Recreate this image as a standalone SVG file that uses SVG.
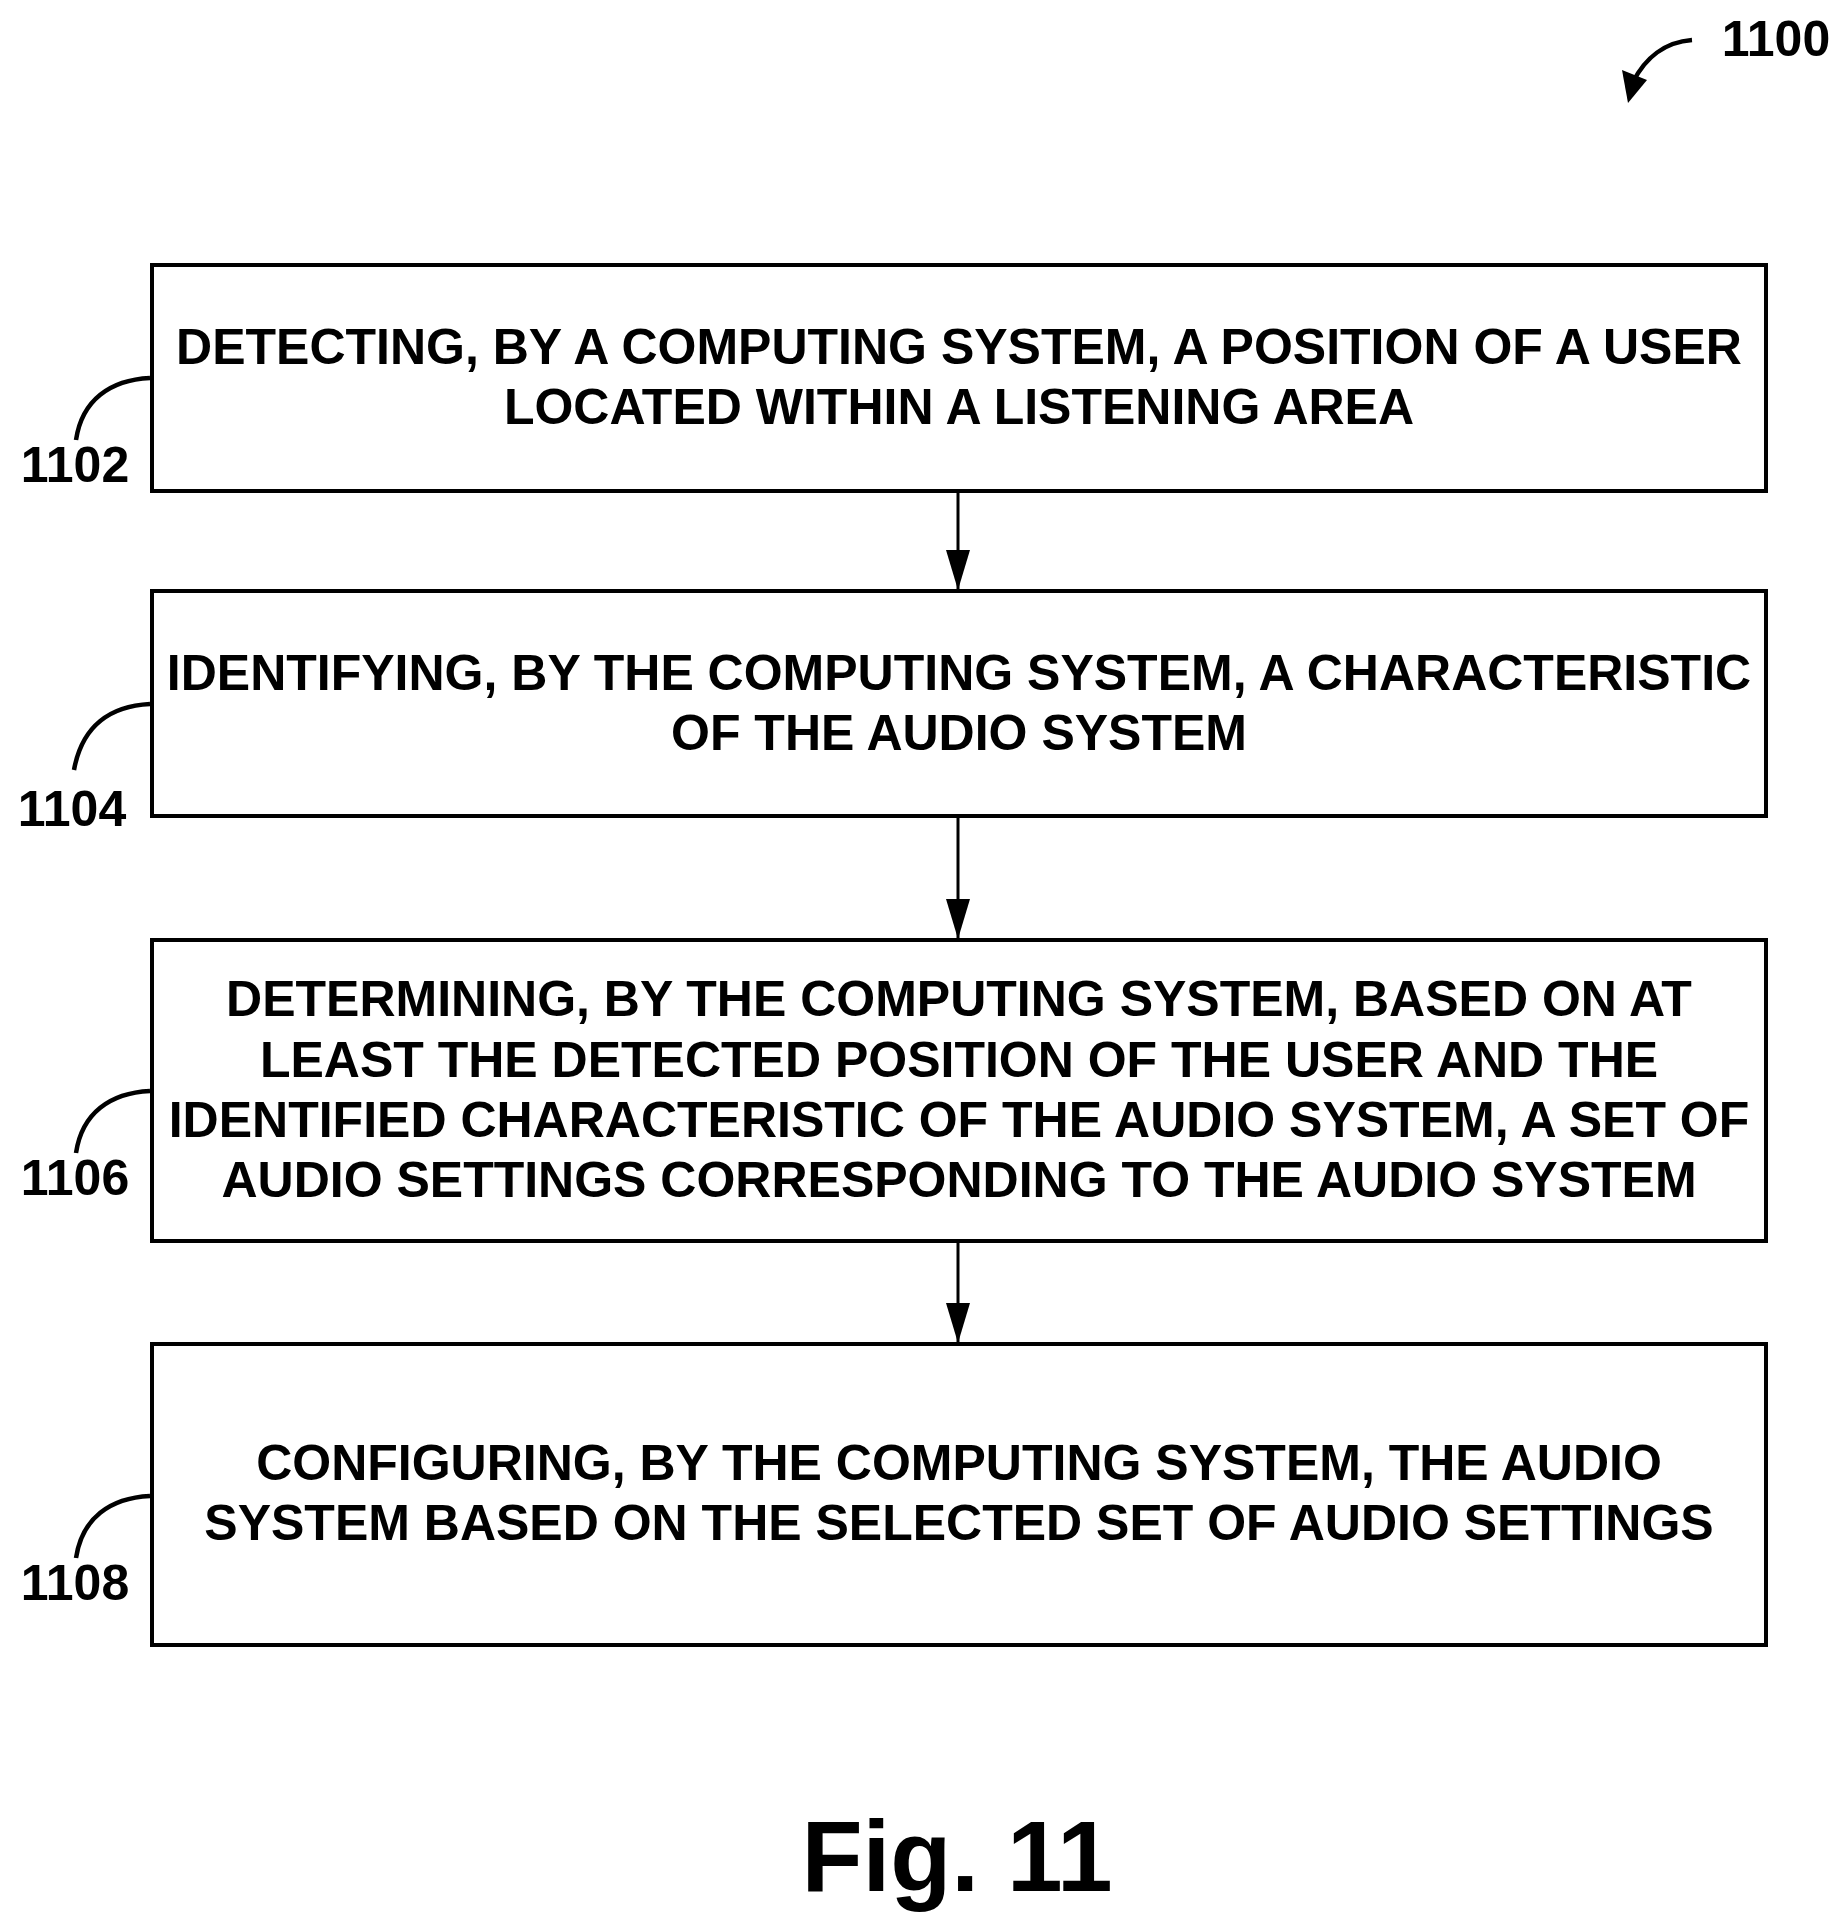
<svg xmlns="http://www.w3.org/2000/svg" width="1848" height="1931" viewBox="0 0 1848 1931">
<defs>
<style>
.box{fill:#fff;stroke:#000;stroke-width:4}
.t{font-family:"Liberation Sans",Arial,sans-serif;font-weight:bold;font-size:50px;text-anchor:middle;fill:#000}
.lbl{font-family:"Liberation Sans",Arial,sans-serif;font-weight:bold;font-size:50px;text-anchor:middle;fill:#000}
.lead{fill:none;stroke:#000;stroke-width:4.5}
.conn{stroke:#000;stroke-width:3;fill:none}
</style>
<marker id="ah2" viewBox="0 0 40 24" refX="40" refY="12" markerWidth="40" markerHeight="24" orient="auto" markerUnits="userSpaceOnUse"><path d="M0,0 L40,12 L0,24 Z"/></marker>
</defs>
<g id="ref1100">
<text class="lbl" x="1776" y="56">1100</text>
<path class="lead" d="M1692,40 C1665,42 1645,58 1633,82"/>
<path d="M1622,70 L1647,80 L1628,103 Z"/>
</g>
<g id="connectors">
<line class="conn" x1="958" y1="492" x2="958" y2="590" marker-end="url(#ah2)"/>
<line class="conn" x1="958" y1="818" x2="958" y2="939" marker-end="url(#ah2)"/>
<line class="conn" x1="958" y1="1243" x2="958" y2="1343" marker-end="url(#ah2)"/>
</g>
<g id="n1102">
<rect class="box" x="152" y="265" width="1614" height="226"/>
<text class="t" x="959" y="364">DETECTING, BY A COMPUTING SYSTEM, A POSITION OF A USER</text>
<text class="t" x="959" y="424">LOCATED WITHIN A LISTENING AREA</text>
<path class="lead" d="M150,378 C110,380 82,400 76,440"/>
<text class="lbl" x="75" y="482">1102</text>
</g>
<g id="n1104">
<rect class="box" x="152" y="591" width="1614" height="225"/>
<text class="t" x="959" y="690">IDENTIFYING, BY THE COMPUTING SYSTEM, A CHARACTERISTIC</text>
<text class="t" x="959" y="750">OF THE AUDIO SYSTEM</text>
<path class="lead" d="M150,704 C110,706 82,726 74,770"/>
<text class="lbl" x="72" y="826">1104</text>
</g>
<g id="n1106">
<rect class="box" x="152" y="940" width="1614" height="301"/>
<text class="t" x="959" y="1016">DETERMINING, BY THE COMPUTING SYSTEM, BASED ON AT</text>
<text class="t" x="959" y="1077">LEAST THE DETECTED POSITION OF THE USER AND THE</text>
<text class="t" x="959" y="1137">IDENTIFIED CHARACTERISTIC OF THE AUDIO SYSTEM, A SET OF</text>
<text class="t" x="959" y="1197">AUDIO SETTINGS CORRESPONDING TO THE AUDIO SYSTEM</text>
<path class="lead" d="M150,1091 C110,1093 82,1113 76,1153"/>
<text class="lbl" x="75" y="1195">1106</text>
</g>
<g id="n1108">
<rect class="box" x="152" y="1344" width="1614" height="301"/>
<text class="t" x="959" y="1480">CONFIGURING, BY THE COMPUTING SYSTEM, THE AUDIO</text>
<text class="t" x="959" y="1540">SYSTEM BASED ON THE SELECTED SET OF AUDIO SETTINGS</text>
<path class="lead" d="M150,1496 C110,1498 82,1518 76,1558"/>
<text class="lbl" x="75" y="1600">1108</text>
</g>
<text class="t" x="957" y="1891" style="font-size:100px">Fig. 11</text>
</svg>
